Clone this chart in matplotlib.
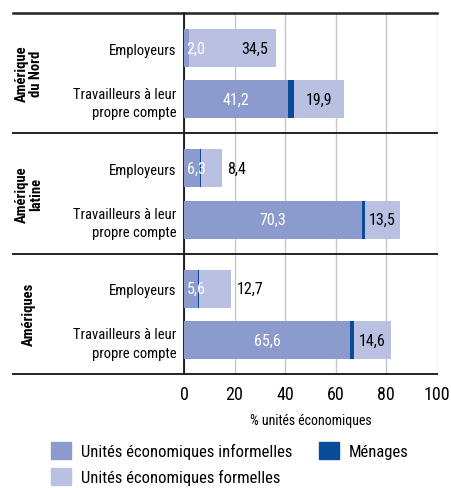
import matplotlib
matplotlib.use("Agg")
import matplotlib.pyplot as plt
from matplotlib.patches import Patch

# Data
groups = ["Amérique\ndu Nord", "Amérique\nlatine", "Amériques"]
categories = ["Employeurs", "Travailleurs à leur\npropre compte"]
informelles = [[2.0, 41.2], [6.3, 70.3], [5.6, 65.6]]
menages = [[0.0, 2.4], [0.4, 1.5], [0.4, 1.6]]
formelles = [[34.5, 19.9], [8.4, 13.5], [12.7, 14.6]]
xticks = [0, 20, 40, 60, 80, 100]

plt.rcParams["font.family"] = ["Roboto Condensed", "DejaVu Sans"]

c_inf = "#8c9bcd"
c_men = "#0a4c99"
c_for = "#b9c0e2"

fig = plt.figure(figsize=(4.51, 4.89), dpi=100)
ax = fig.add_axes([184 / 451, 1 - 375 / 489, 252.7 / 451, 361 / 489])

group_h = 6
offsets = [1.75, 4.3]
bar_h = 1.9


def fmt(v):
    return f"{v:.1f}".replace(".", ",")


ytick_pos = []
ytick_lab = []
for g in range(len(groups)):
    for c in range(len(categories)):
        y = g * group_h + offsets[c]
        inf = informelles[g][c]
        men = menages[g][c]
        frm = formelles[g][c]
        ax.barh(y, inf, height=bar_h, color=c_inf, zorder=3)
        ax.barh(y, men, left=inf, height=bar_h, color=c_men, zorder=3)
        ax.barh(y, frm, left=inf + men, height=bar_h, color=c_for, zorder=3)
        # value labels
        if inf < 10:
            ax.text(1.0, y, fmt(inf), color="white", va="center", ha="left",
                    fontsize=11.5, zorder=4)
        else:
            ax.text(inf / 2, y, fmt(inf), color="white", va="center", ha="center",
                    fontsize=11.5, zorder=4)
        start = inf + men
        end = start + frm
        if frm < 13:
            ax.text(end + 2, y, fmt(frm), va="center", ha="left", fontsize=11.5, zorder=4)
        elif frm > 25:
            ax.text(start + 0.75 * frm, y, fmt(frm), va="center", ha="center",
                    fontsize=11.5, zorder=4)
        else:
            ax.text(start + frm / 2, y, fmt(frm), va="center", ha="center",
                    fontsize=11.5, zorder=4)
        ytick_pos.append(y)
        ytick_lab.append(categories[c])
    ax.text(-0.613, 1 - (g * group_h + group_h / 2) / (group_h * len(groups)), groups[g],
            transform=ax.transAxes, rotation=90, ha="center", va="center",
            fontsize=10.5, fontweight="bold", linespacing=1.05)

ax.set_xlim(0, 100)
ax.set_ylim(group_h * len(groups), 0)
ax.set_xticks(xticks)
ax.set_xticklabels([str(t) for t in xticks], fontsize=13)
ax.set_yticks(ytick_pos)
ax.set_yticklabels(ytick_lab, fontsize=10.5, linespacing=1.4)
ax.tick_params(length=0)
ax.tick_params(axis="x", pad=8)
ax.tick_params(axis="y", pad=5.5)
ax.xaxis.grid(True, color="#c8c8c8", lw=1, zorder=0)

for s in ["top", "right", "bottom"]:
    ax.spines[s].set_visible(False)
ax.spines["left"].set_color("black")
ax.spines["left"].set_linewidth(1.2)

for g in range(len(groups) + 1):
    ax.axhline(g * group_h, xmin=-0.677, xmax=1.0, color="#222222",
               lw=1.8 if g == 0 else 1.4, clip_on=False, zorder=5)

ax.set_xlabel("% unités économiques", fontsize=10, labelpad=7)

handles = [Patch(color=c_inf, label="Unités économiques informelles"),
           Patch(color=c_for, label="Unités économiques formelles"),
           Patch(color=c_men, label="Ménages")]
fig.legend(handles=handles, ncol=2, loc="upper left", bbox_to_anchor=(51 / 451, 1 - 443 / 489),
           frameon=False, fontsize=12, handlelength=1.2, handleheight=1.2,
           handletextpad=0.6, columnspacing=1.6, labelspacing=0.55, borderpad=0,
           borderaxespad=0)

fig.savefig("out.png", dpi=100)
